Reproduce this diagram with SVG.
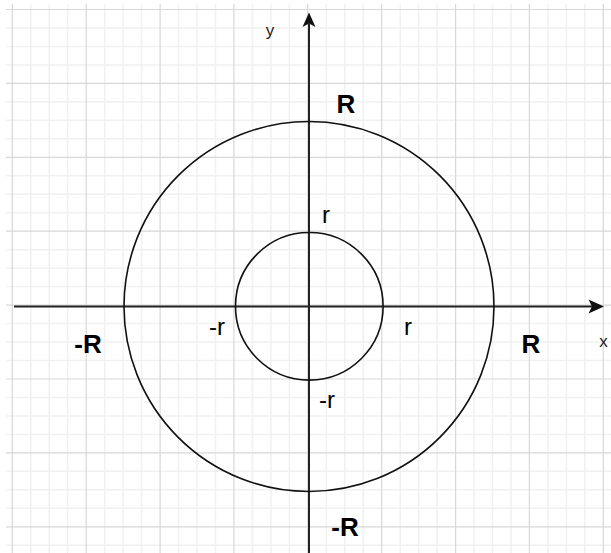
<svg xmlns="http://www.w3.org/2000/svg" width="611" height="553" viewBox="0 0 611 553">
<style>
.minor{stroke:#f1f1f1;stroke-width:1.5;fill:none}
.major{stroke:#d8d8d8;stroke-width:1.2;fill:none}
.axis{stroke:#222;stroke-width:2;fill:none}
.circ{stroke:#111;stroke-width:1.6;fill:none}
.lbl{font-family:"Liberation Sans",Arial,sans-serif;fill:#000;text-anchor:middle}
.big{font-size:26px;font-weight:bold}
.sm{font-size:24px}
.ax{font-size:17px;fill:#222}
</style>
<rect width="611" height="553" fill="#fff"/>
<g id="grid">
<path class="minor" d="M30.8 4V553M49.2 4V553M67.7 4V553M104.7 4V553M123.1 4V553M141.6 4V553M178.5 4V553M197 4V553M215.5 4V553M252.4 4V553M270.9 4V553M289.3 4V553M326.3 4V553M344.8 4V553M363.2 4V553M400.2 4V553M418.6 4V553M437.1 4V553M474 4V553M492.5 4V553M511 4V553M547.9 4V553M566.4 4V553M584.8 4V553
M6 27.97H611M6 46.45H611M6 64.92H611M6 101.87H611M6 120.35H611M6 138.82H611M6 175.77H611M6 194.25H611M6 212.72H611M6 249.67H611M6 268.15H611M6 286.62H611M6 323.57H611M6 342.05H611M6 360.52H611M6 397.47H611M6 415.95H611M6 434.42H611M6 471.37H611M6 489.85H611M6 508.32H611M6 545.27H611"/>
<path class="major" d="M12.3 4V553M86.2 4V553M160.1 4V553M233.9 4V553M307.8 4V553M381.7 4V553M455.6 4V553M529.4 4V553M603.3 4V553
M6 9.5H611M6 83.4H611M6 157.3H611M6 231.2H611M6 305.1H611M6 379H611M6 452.9H611M6 526.8H611"/>
</g>
<g id="connectors">
<line class="axis" x1="14" y1="306.5" x2="592" y2="306.5"/>
<polygon points="604,306.5 588.5,299.5 592,306.5 588.5,313.5" fill="#111"/>
<line class="axis" x1="309" y1="553" x2="309" y2="23.5"/>
<polygon points="309,12.5 302.5,27 309,23.5 315.5,27" fill="#111"/>
</g>
<g id="outer-circle"><circle class="circ" cx="309" cy="306.5" r="185"/></g>
<g id="inner-circle"><circle class="circ" cx="309.3" cy="306.3" r="73.8"/></g>
<g id="labels">
<text class="lbl ax" x="270" y="36">y</text>
<text class="lbl ax" x="603.5" y="347">x</text>
<text class="lbl big" x="346" y="113">R</text>
<text class="lbl big" x="531" y="353">R</text>
<text class="lbl big" x="88" y="353">-R</text>
<text class="lbl big" x="345" y="536">-R</text>
<text class="lbl sm" x="326" y="223">r</text>
<text class="lbl sm" x="408" y="335">r</text>
<text class="lbl sm" x="217" y="335">-r</text>
<text class="lbl sm" x="327" y="408">-r</text>
</g>
</svg>
